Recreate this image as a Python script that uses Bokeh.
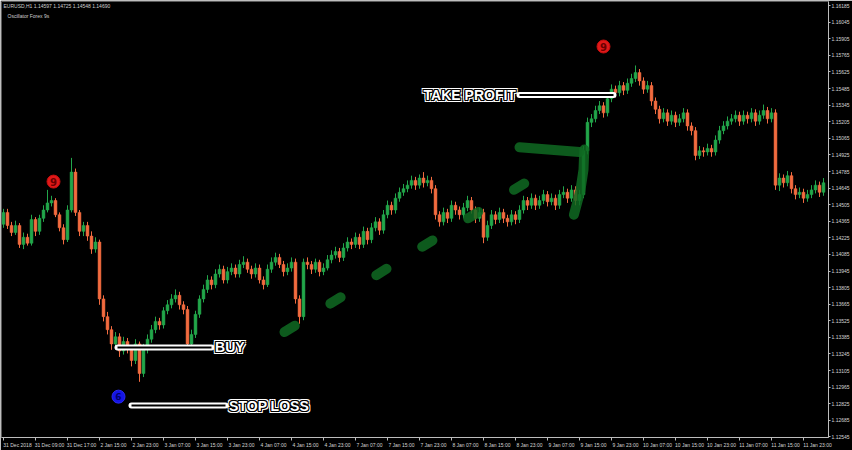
from bokeh.plotting import figure
from bokeh.models import FixedTicker, Range1d, Label, ColumnDataSource, NumeralTickFormatter
from bokeh.core.properties import value
from bokeh.embed import file_html
from bokeh.resources import INLINE

# ---------------- data (EURUSD H1) ----------------
OPEN = [
1.1434,1.1444,1.1433,1.1427,1.1433,1.1417,1.1423,1.1418,1.1438,1.1428,
1.1439,1.1446,1.1452,1.1454,1.1442,1.1431,1.1421,1.1446,1.1478,1.1444,
1.1428,1.1433,1.1424,1.1413,1.1419,1.1371,1.1356,1.1345,1.1333,1.1339,
1.1327,1.1335,1.1329,1.1319,1.1333,1.1308,1.1329,1.1337,1.1345,1.1352,
1.1349,1.1361,1.1366,1.1371,1.1374,1.1366,1.1362,1.1333,1.1341,1.1358,
1.1371,1.1379,1.1387,1.1383,1.1392,1.1396,1.1387,1.1394,1.1397,1.1392,
1.1400,1.1402,1.1396,1.1392,1.1397,1.1387,1.1383,1.1396,1.1402,1.1406,
1.1400,1.1394,1.1397,1.1402,1.1371,1.1356,1.1402,1.1400,1.1396,1.1402,
1.1394,1.1397,1.1404,1.1408,1.1411,1.1406,1.1414,1.1419,1.1417,1.1423,
1.1417,1.1428,1.1421,1.1431,1.1436,1.1429,1.1442,1.1450,1.1446,1.1456,
1.1461,1.1464,1.1467,1.1471,1.1467,1.1473,1.1469,1.1471,1.1464,1.1442,
1.1436,1.1444,1.1439,1.1450,1.1446,1.1442,1.1448,1.1454,1.1446,1.1439,
1.1444,1.1423,1.1433,1.1442,1.1438,1.1444,1.1439,1.1436,1.1442,1.1438,
1.1446,1.1454,1.1450,1.1456,1.1450,1.1454,1.1459,1.1453,1.1456,1.1450,
1.1459,1.1461,1.1456,1.1463,1.1454,1.1459,1.1496,1.1520,1.1523,1.1530,
1.1534,1.1528,1.1540,1.1548,1.1545,1.1551,1.1547,1.1553,1.1557,1.1562,
1.1555,1.1548,1.1551,1.1538,1.1531,1.1523,1.1528,1.1521,1.1526,1.1520,
1.1523,1.1528,1.1517,1.1513,1.1492,1.1496,1.1495,1.1498,1.1495,1.1505,
1.1513,1.1517,1.1521,1.1523,1.1526,1.1521,1.1526,1.1523,1.1528,1.1521,
1.1526,1.1530,1.1523,1.1528,1.1467,1.1473,1.1469,1.1475,1.1464,1.1459,
1.1461,1.1456,1.1459,1.1463,1.1467,1.1461]

HIGH = [
1.1447,1.1447,1.1436,1.1437,1.1435,1.1427,1.1426,1.1442,1.1440,1.1442,
1.1450,1.1463,1.1458,1.1456,1.1444,1.1434,1.1450,1.1490,1.1481,1.1446,
1.1436,1.1436,1.1428,1.1423,1.1421,1.1374,1.1360,1.1348,1.1343,1.1342,
1.1339,1.1338,1.1332,1.1337,1.1335,1.1333,1.1341,1.1349,1.1356,1.1355,
1.1364,1.1370,1.1375,1.1379,1.1377,1.1369,1.1365,1.1345,1.1361,1.1374,
1.1383,1.1391,1.1390,1.1396,1.1400,1.1399,1.1398,1.1401,1.1400,1.1404,
1.1407,1.1405,1.1399,1.1401,1.1400,1.1390,1.1400,1.1406,1.1410,1.1409,
1.1403,1.1401,1.1406,1.1405,1.1374,1.1405,1.1406,1.1403,1.1405,1.1404,
1.1401,1.1408,1.1412,1.1415,1.1414,1.1418,1.1423,1.1422,1.1427,1.1426,
1.1432,1.1431,1.1435,1.1440,1.1439,1.1446,1.1454,1.1453,1.1460,1.1465,
1.1468,1.1471,1.1475,1.1474,1.1476,1.1478,1.1475,1.1474,1.1467,1.1445,
1.1448,1.1447,1.1454,1.1453,1.1449,1.1452,1.1458,1.1457,1.1449,1.1448,
1.1447,1.1437,1.1446,1.1445,1.1448,1.1447,1.1442,1.1446,1.1445,1.1450,
1.1458,1.1457,1.1460,1.1459,1.1458,1.1463,1.1462,1.1460,1.1459,1.1463,
1.1466,1.1464,1.1467,1.1466,1.1463,1.1500,1.1524,1.1527,1.1534,1.1538,
1.1537,1.1544,1.1552,1.1551,1.1555,1.1554,1.1557,1.1561,1.1568,1.1565,
1.1558,1.1555,1.1554,1.1541,1.1534,1.1532,1.1531,1.1530,1.1529,1.1527,
1.1532,1.1531,1.1520,1.1516,1.1500,1.1499,1.1502,1.1501,1.1509,1.1517,
1.1521,1.1525,1.1527,1.1530,1.1529,1.1530,1.1529,1.1532,1.1531,1.1530,
1.1535,1.1533,1.1532,1.1531,1.1477,1.1476,1.1479,1.1478,1.1467,1.1465,
1.1464,1.1463,1.1467,1.1471,1.1470,1.1473]

LOW = [
1.1431,1.1430,1.1424,1.1425,1.1414,1.1413,1.1416,1.1416,1.1424,1.1425,
1.1436,1.1444,1.1449,1.1440,1.1428,1.1417,1.1419,1.1444,1.1441,1.1424,
1.1424,1.1420,1.1409,1.1410,1.1366,1.1352,1.1341,1.1328,1.1330,1.1322,
1.1324,1.1325,1.1314,1.1316,1.1301,1.1305,1.1325,1.1334,1.1342,1.1345,
1.1346,1.1358,1.1363,1.1368,1.1362,1.1358,1.1329,1.1330,1.1338,1.1355,
1.1368,1.1376,1.1379,1.1380,1.1389,1.1384,1.1384,1.1391,1.1389,1.1389,
1.1397,1.1393,1.1388,1.1389,1.1384,1.1379,1.1381,1.1393,1.1399,1.1397,
1.1390,1.1391,1.1394,1.1367,1.1350,1.1353,1.1396,1.1392,1.1393,1.1390,
1.1391,1.1395,1.1401,1.1405,1.1402,1.1403,1.1411,1.1413,1.1414,1.1413,
1.1414,1.1417,1.1418,1.1428,1.1425,1.1426,1.1439,1.1442,1.1443,1.1453,
1.1458,1.1461,1.1464,1.1463,1.1464,1.1465,1.1466,1.1460,1.1438,1.1432,
1.1433,1.1435,1.1436,1.1442,1.1438,1.1439,1.1445,1.1443,1.1435,1.1436,
1.1418,1.1420,1.1430,1.1434,1.1435,1.1435,1.1432,1.1433,1.1434,1.1435,
1.1443,1.1446,1.1447,1.1446,1.1447,1.1451,1.1449,1.1450,1.1446,1.1447,
1.1456,1.1452,1.1453,1.1450,1.1450,1.1456,1.1493,1.1516,1.1520,1.1527,
1.1524,1.1525,1.1537,1.1541,1.1542,1.1543,1.1544,1.1550,1.1554,1.1551,
1.1544,1.1545,1.1534,1.1527,1.1519,1.1520,1.1517,1.1518,1.1516,1.1517,
1.1520,1.1513,1.1509,1.1488,1.1489,1.1491,1.1492,1.1491,1.1492,1.1502,
1.1510,1.1514,1.1518,1.1520,1.1517,1.1518,1.1519,1.1520,1.1517,1.1518,
1.1523,1.1519,1.1520,1.1463,1.1462,1.1465,1.1466,1.1460,1.1455,1.1456,
1.1452,1.1453,1.1456,1.1460,1.1457,1.1458]

CLOSE = [
1.1444,1.1433,1.1427,1.1433,1.1417,1.1423,1.1418,1.1438,1.1428,1.1439,
1.1446,1.1452,1.1454,1.1442,1.1431,1.1421,1.1446,1.1478,1.1444,1.1428,
1.1433,1.1424,1.1413,1.1419,1.1371,1.1356,1.1345,1.1333,1.1339,1.1327,
1.1335,1.1329,1.1319,1.1333,1.1308,1.1329,1.1337,1.1345,1.1352,1.1349,
1.1361,1.1366,1.1371,1.1374,1.1366,1.1362,1.1333,1.1341,1.1358,1.1371,
1.1379,1.1387,1.1383,1.1392,1.1396,1.1387,1.1394,1.1397,1.1392,1.1400,
1.1402,1.1396,1.1392,1.1397,1.1387,1.1383,1.1396,1.1402,1.1406,1.1400,
1.1394,1.1397,1.1402,1.1371,1.1356,1.1402,1.1400,1.1396,1.1402,1.1394,
1.1397,1.1404,1.1408,1.1411,1.1406,1.1414,1.1419,1.1417,1.1423,1.1417,
1.1428,1.1421,1.1431,1.1436,1.1429,1.1442,1.1450,1.1446,1.1456,1.1461,
1.1464,1.1467,1.1471,1.1467,1.1473,1.1469,1.1471,1.1464,1.1442,1.1436,
1.1444,1.1439,1.1450,1.1446,1.1442,1.1448,1.1454,1.1446,1.1439,1.1444,
1.1423,1.1433,1.1442,1.1438,1.1444,1.1439,1.1436,1.1442,1.1438,1.1446,
1.1454,1.1450,1.1456,1.1450,1.1454,1.1459,1.1453,1.1456,1.1450,1.1459,
1.1461,1.1456,1.1463,1.1454,1.1459,1.1496,1.1520,1.1523,1.1530,1.1534,
1.1528,1.1540,1.1548,1.1545,1.1551,1.1547,1.1553,1.1557,1.1562,1.1555,
1.1548,1.1551,1.1538,1.1531,1.1523,1.1528,1.1521,1.1526,1.1520,1.1523,
1.1528,1.1517,1.1513,1.1492,1.1496,1.1495,1.1498,1.1495,1.1505,1.1513,
1.1517,1.1521,1.1523,1.1526,1.1521,1.1526,1.1523,1.1528,1.1521,1.1526,
1.1530,1.1523,1.1528,1.1467,1.1473,1.1469,1.1475,1.1464,1.1459,1.1461,
1.1456,1.1459,1.1463,1.1467,1.1461,1.1469]

TIME_LABELS = ["31 Dec 2018", "31 Dec 09:00", "31 Dec 17:00", "2 Jan 15:00", "2 Jan 23:00",
               "3 Jan 07:00", "3 Jan 15:00", "3 Jan 23:00", "4 Jan 07:00", "4 Jan 15:00",
               "4 Jan 23:00", "7 Jan 07:00", "7 Jan 15:00", "7 Jan 23:00", "8 Jan 07:00",
               "8 Jan 15:00", "8 Jan 23:00", "9 Jan 07:00", "9 Jan 15:00", "9 Jan 23:00",
               "10 Jan 07:00", "10 Jan 15:00", "10 Jan 23:00", "11 Jan 07:00", "11 Jan 15:00",
               "11 Jan 23:00"]
BARS_PER_LABEL = 8

PRICE_TICKS = [1.16185, 1.16045, 1.15905, 1.15765, 1.15625, 1.15485, 1.15345, 1.15205,
               1.15065, 1.14925, 1.14785, 1.14645, 1.14505, 1.14365, 1.14225, 1.14085,
               1.13945, 1.13805, 1.13665, 1.13525, 1.13385, 1.13245, 1.13105, 1.12965,
               1.12825, 1.12685, 1.12545]
MARKED_PRICE = 1.14133

HEADER = "EURUSD,H1  1.14597 1.14725 1.14548 1.14690"
SUBHEADER = "Oscillator Forex 9s"

# trade annotations (bar index, price)
BUY_BARS, BUY_PRICE = [28.5, 52.0], 1.1330
SL_BARS, SL_PRICE = [32.0, 55.5], 1.1281
TP_BARS, TP_PRICE = [129.0, 152.5], 1.1543
NINE_BARS, NINE_PRICES = [12.5, 150.0], [1.1470, 1.1584]
BLUE_BAR, BLUE_PRICE = 28.75, 1.12885
SHAFT_BARS, SHAFT_PRICES = [70.25, 135.75], [1.1343, 1.1480]
HEAD_H_BARS, HEAD_H_PRICES = [129.0, 144.0], [1.1499, 1.1495]
HEAD_V_BARS, HEAD_V_PRICES = [145.2, 145.0, 144.2, 142.6], [1.1497, 1.1480, 1.1462, 1.1442]

UP_COLOR = "#22a64a"
DOWN_COLOR = "#f26b3f"

# ---------------- figure ----------------
n = len(CLOSE)
idx = list(range(n))
src = ColumnDataSource(dict(
    x=idx, h=HIGH, l=LOW,
    top=[max(o, c) for o, c in zip(OPEN, CLOSE)],
    bottom=[min(o, c) for o, c in zip(OPEN, CLOSE)],
    color=[UP_COLOR if c >= o else DOWN_COLOR for o, c in zip(OPEN, CLOSE)],
))

p = figure(width=852, height=450, output_backend="svg", toolbar_location=None,
           x_range=Range1d(-0.5, n + 0.25), y_range=Range1d(1.12540, 1.16220),
           y_axis_location="right", x_axis_location="below",
           background_fill_color="black", border_fill_color="black",
           min_border_left=1, min_border_top=1, min_border_right=24, min_border_bottom=12)
p.grid.visible = False
p.outline_line_color = "#5a5a5a"

p.segment(x0="x", y0="h", x1="x", y1="l", color="color", line_width=1, source=src)
p.vbar(x="x", top="top", bottom="bottom", width=0.72, fill_color="color",
       line_color="color", line_width=0.5, source=src)

# axes
label_ticks = [BARS_PER_LABEL * k + 3.5 for k in range(len(TIME_LABELS))]
p.xaxis.ticker = FixedTicker(ticks=label_ticks,
                             minor_ticks=[BARS_PER_LABEL * k for k in range(len(TIME_LABELS))])
p.xaxis.major_label_overrides = {t: s for t, s in zip(label_ticks, TIME_LABELS)}
p.xaxis.major_tick_out = 0
p.xaxis.major_tick_in = 0
p.xaxis.minor_tick_out = 3
p.xaxis.minor_tick_in = 0
p.xaxis.minor_tick_line_color = "#bdbdbd"
p.xaxis.major_label_standoff = 1

p.yaxis.ticker = FixedTicker(ticks=PRICE_TICKS)
p.yaxis.formatter = NumeralTickFormatter(format="0.00000")
p.yaxis.major_tick_out = 2
p.yaxis.major_tick_in = 0
p.yaxis.minor_tick_out = 0
p.yaxis.major_label_standoff = 1
for ax in (p.xaxis, p.yaxis):
    ax.axis_line_color = "#bdbdbd"
    ax.major_tick_line_color = "#bdbdbd"
    ax.major_label_text_color = "#d6d6d6"
    ax.major_label_text_font = "Liberation Sans"
    ax.major_label_text_font_size = "5px"

p.add_layout(Label(x=n + 0.45, y=MARKED_PRICE, text=f"{MARKED_PRICE:.5f}",
                   text_font_size="5px", text_color="black", text_baseline="middle",
                   background_fill_color="white", text_font="Liberation Sans"))

# header
p.add_layout(Label(x=0.0, y=1.16205, text=HEADER, text_font_size="5px", text_color="#cfcfcf",
                   text_baseline="top", text_font="Liberation Sans"))
p.add_layout(Label(x=1.0, y=1.16125, text=SUBHEADER, text_font_size="5px", text_color="#cfcfcf",
                   text_baseline="top", text_font="Liberation Sans"))

# green hand-drawn dashed arrow
GREEN = "#0f6a22"
p.line(SHAFT_BARS, SHAFT_PRICES, line_color=GREEN, line_width=10, line_alpha=0.85,
       line_dash="12 42", line_cap="round")
p.line(HEAD_H_BARS, HEAD_H_PRICES, line_color=GREEN, line_width=10, line_alpha=0.85, line_cap="round")
p.line(HEAD_V_BARS, HEAD_V_PRICES, line_color=GREEN, line_width=10, line_alpha=0.85, line_cap="round",
       line_join="round")

# trade level lines
for bars, price in ((BUY_BARS, BUY_PRICE), (SL_BARS, SL_PRICE), (TP_BARS, TP_PRICE)):
    p.line(bars, [price, price], line_color="white", line_width=6, line_cap="round")
    p.line(bars, [price, price], line_color="black", line_width=2, line_cap="butt")


def outlined_text(x, y, txt, align):
    kw = dict(text_font=value("Liberation Sans"), text_font_style="bold", text_font_size="14px",
              text_baseline="middle", text_align=align)
    for r, col in ((2.0, "white"), (1.0, "black")):
        for dx, dy in ((r, 0), (-r, 0), (0, r), (0, -r), (r, r), (-r, r), (r, -r), (-r, -r)):
            p.text(x=[x], y=[y], text=[txt], text_color=col, x_offset=dx, y_offset=dy, **kw)
    p.text(x=[x], y=[y], text=[txt], text_color="white", **kw)


outlined_text(BUY_BARS[1] + 0.9, BUY_PRICE, "BUY", "left")
outlined_text(SL_BARS[1] + 0.9, SL_PRICE, "STOP LOSS", "left")
outlined_text(TP_BARS[0] - 0.9, TP_PRICE, "TAKE PROFIT", "right")

# signal circles
p.scatter(NINE_BARS, NINE_PRICES, size=13, marker="circle", fill_color="#e01818",
          line_color="#c40f0f", line_width=1)
p.text(x=NINE_BARS, y=NINE_PRICES, text=["9", "9"], text_color="#6a0000",
       text_font=value("DejaVu Sans"), text_font_style="bold", text_font_size="10px",
       text_align="center", text_baseline="middle")
p.scatter([BLUE_BAR], [BLUE_PRICE], size=13, marker="circle", fill_color="#1414e6",
          line_color="#2a2af0", line_width=1)
p.text(x=[BLUE_BAR], y=[BLUE_PRICE], text=["6"], text_color="#00006a",
       text_font=value("DejaVu Sans"), text_font_style="bold", text_font_size="9px",
       text_align="center", text_baseline="middle")

open("out.html", "w").write(file_html(p, INLINE))
